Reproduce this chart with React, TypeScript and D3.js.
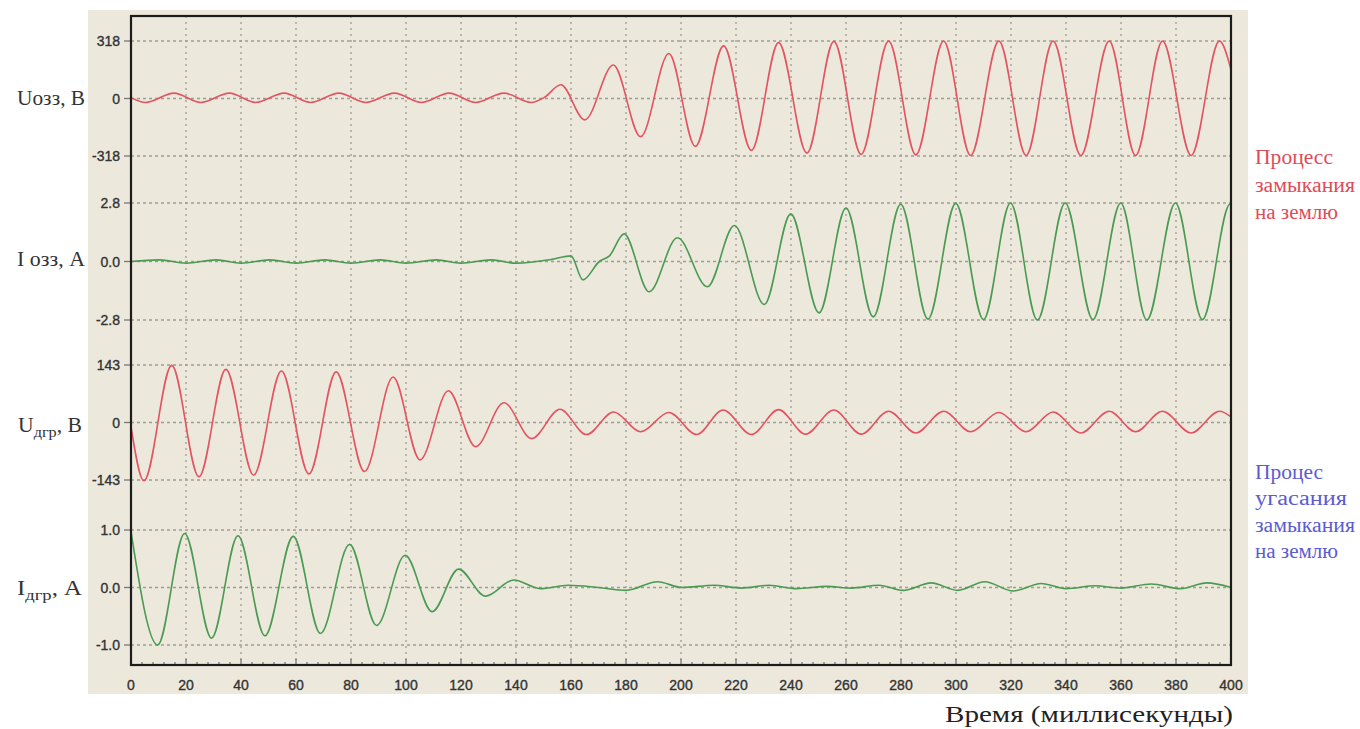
import React from 'react'
import * as d3 from 'd3'

// extrema: [time ms, value]
const uOzz: [number, number][] = [
  [0, 5], [5.3, -22], [15.6, 30], [25.4, -22], [35.8, 30], [45.3, -22], [55.7, 30],
  [65.3, -22], [75.6, 30], [85.4, -22], [95.8, 30], [105.6, -22], [115.7, 30],
  [125.3, -22], [135.6, 30], [145.5, -22], [150.5, 8], [156.3, 76], [165, -118],
  [175.4, 185], [185.3, -211], [195.6, 249], [205.2, -265], [215.5, 291], [225.6, -287],
  [235.5, 309], [245.8, -302], [255.6, 316], [265.5, -309], [275.5, 318], [285.4, -312],
  [295.5, 318], [305.3, -315], [315.6, 318], [325.5, -315], [335.3, 318], [345.4, -315],
  [355.7, 318], [365.3, -315], [375.1, 318], [385.5, -315], [395.8, 318], [400, 160],
]

const iOzz: [number, number][] = [
  [0, 0], [10.4, 0.08], [20, -0.08], [31, 0.08], [40, -0.08], [50.5, 0.08], [60, -0.08],
  [70.4, 0.08], [80, -0.08], [90.6, 0.08], [100, -0.08], [111, 0.08], [120, -0.08],
  [131, 0.08], [140, -0.08], [153, 0.1], [160, 0.27], [164.3, -0.88], [170.3, 0.0],
  [174, 0.27], [179.3, 1.32], [188.4, -1.45], [198.7, 1.14], [209.6, -1.21], [219.4, 1.72],
  [230.3, -2.06], [239.9, 2.28], [250.2, -2.46], [260, 2.56], [269.9, -2.65], [279.9, 2.74],
  [289.8, -2.76], [299.9, 2.78], [310, -2.78], [319.8, 2.8], [329.6, -2.8], [339.7, 2.8],
  [349.8, -2.78], [359.9, 2.8], [369.4, -2.8], [379.8, 2.8], [389.6, -2.78], [399.7, 2.75],
  [400, 2.74],
]

const uDgr: [number, number][] = [
  [0, -10], [4.7, -145], [14.8, 142], [24.7, -135], [34.5, 132], [44.6, -131], [54.7, 128],
  [64.7, -128], [74.6, 126], [84.9, -122], [95.3, 113], [105.1, -93], [115.4, 79],
  [125.3, -60], [135.6, 49], [145.7, -40], [156, 33], [165.6, -30], [175.5, 26],
  [185.3, -23], [195.6, 25], [205.7, -30], [215.3, 31], [225.6, -30], [235.5, 32],
  [245.3, -29], [255.6, 31], [265.5, -29], [275.5, 28], [285.4, -26], [295.5, 28],
  [305.3, -23], [315.6, 25], [325.5, -23], [335.3, 26], [345.4, -26], [355.7, 28],
  [365.3, -23], [375.1, 28], [385.5, -26], [395.8, 28], [400, 14],
]

const iDgr: [number, number][] = [
  [0, 0.97], [9.7, -1.0], [19.5, 0.94], [29.3, -0.88], [38.9, 0.9], [48.7, -0.84],
  [59, 0.89], [68.9, -0.8], [79.5, 0.75], [89.3, -0.66], [99.7, 0.56], [109.5, -0.42],
  [119.1, 0.32], [128.9, -0.15], [139.2, 0.13], [148.8, -0.02], [159, 0.04], [170, 0.0],
  [180, -0.05], [191.5, 0.1], [200.3, 0.0], [212, 0.04], [222, -0.01], [232, 0.04],
  [242, -0.02], [253, 0.02], [262, -0.01], [272, 0.04], [280.7, -0.05], [291, 0.08],
  [300.6, -0.05], [310.5, 0.1], [320.8, -0.06], [331, 0.07], [340, -0.02], [350.6, 0.03],
  [360, -0.01], [371, 0.06], [381.6, -0.02], [391.2, 0.08], [400, 0.0],
]

const timeTicks = [0, 20, 40, 60, 80, 100, 120, 140, 160, 180, 200, 220, 240, 260, 280, 300, 320, 340, 360, 380, 400]
const uOzzTicks = [318, 0, -318]
const uOzzLabels = ['318', '0', '-318']
const iOzzTicks = [2.8, 0, -2.8]
const iOzzLabels = ['2.8', '0.0', '-2.8']
const uDgrTicks = [143, 0, -143]
const uDgrLabels = ['143', '0', '-143']
const iDgrTicks = [1, 0, -1]
const iDgrLabels = ['1.0', '0.0', '-1.0']

const RED = '#e35462'
const GREEN = '#4a9a52'
const GRID = '#9d9c94'
const BG = '#ECE9DC'

const plot = { left: 131, right: 1231, top: 16, bottom: 665 }

const bands = [
  { data: uOzz, ticks: uOzzTicks, labels: uOzzLabels, top: 41, bottom: 156, color: RED },
  { data: iOzz, ticks: iOzzTicks, labels: iOzzLabels, top: 203, bottom: 320, color: GREEN },
  { data: uDgr, ticks: uDgrTicks, labels: uDgrLabels, top: 365, bottom: 480, color: RED },
  { data: iDgr, ticks: iDgrTicks, labels: iDgrLabels, top: 530, bottom: 645, color: GREEN },
]

const serif = "'Liberation Serif', 'Times New Roman', serif"
const sans = "'Liberation Sans', Arial, sans-serif"

export default function App() {
  const x = d3.scaleLinear().domain([0, 400]).range([plot.left, plot.right])
  const minor = d3.range(0, 401, 4)

  return (
    <svg width={1360} height={729} style={{ position: 'absolute', left: 0, top: 0, background: '#fff' }}>
      <rect x={88} y={10} width={1160} height={684} fill={BG} />

      {/* vertical grid */}
      {timeTicks.slice(1, -1).map(t => (
        <line key={'vg' + t} x1={x(t)} x2={x(t)} y1={plot.top} y2={plot.bottom}
          stroke={GRID} strokeWidth={1.3} strokeDasharray="2,4" />
      ))}

      {bands.map((b, i) => {
        const y = d3.scaleLinear().domain([b.ticks[2], b.ticks[0]]).range([b.bottom, b.top])
        const line = d3.line<[number, number]>()
          .x(d => x(d[0]))
          .y(d => y(d[1]))
          .curve(d3.curveMonotoneX)
        return (
          <g key={'band' + i}>
            {b.ticks.map((v, j) => (
              <g key={j}>
                <line x1={plot.left} x2={plot.right} y1={y(v)} y2={y(v)}
                  stroke={GRID} strokeWidth={1.3} strokeDasharray="3,3" />
                <line x1={124} x2={plot.left} y1={y(v)} y2={y(v)} stroke="#777" strokeWidth={1.3} />
                <text x={120} y={y(v)} dy="0.36em" textAnchor="end" fontFamily={sans}
                  fontSize={14} fill="#333" stroke="#333" strokeWidth={0.35}>{b.labels[j]}</text>
              </g>
            ))}
            <path d={line(b.data) || ''} fill="none" stroke={b.color} strokeWidth={1.6} />
          </g>
        )
      })}

      {/* x axis ticks */}
      {minor.map(t => (
        <line key={'mt' + t} x1={x(t)} x2={x(t)} y1={plot.bottom} y2={plot.bottom - (t % 20 === 0 ? 6 : 3)}
          stroke="#555" strokeWidth={1} />
      ))}
      {timeTicks.map(t => (
        <text key={'xl' + t} x={x(t)} y={690} textAnchor="middle" fontFamily={sans}
          fontSize={14} fill="#333" stroke="#333" strokeWidth={0.35}>{t}</text>
      ))}

      <rect x={plot.left} y={plot.top} width={plot.right - plot.left} height={plot.bottom - plot.top}
        fill="none" stroke="#1c1c1c" strokeWidth={2.2} />

      {/* channel labels */}
      <g fontFamily={serif} fontSize={20} fill="#333">
        <text x={17} y={105} textLength={68} lengthAdjust="spacingAndGlyphs">Uозз, В</text>
        <text x={17} y={266} textLength={68} lengthAdjust="spacingAndGlyphs">I озз, А</text>
        <text x={18} y={432} textLength={64} lengthAdjust="spacingAndGlyphs">
          U<tspan fontSize={15} dy={5}>дгр</tspan><tspan dy={-5}>, В</tspan>
        </text>
        <text x={17} y={595} textLength={65} lengthAdjust="spacingAndGlyphs">
          I<tspan fontSize={15} dy={5}>дгр</tspan><tspan dy={-5}>, А</tspan>
        </text>
      </g>

      <g fontFamily={serif} fontSize={20} fill="#e04b57">
        <text x={1255} y={164} textLength={78} lengthAdjust="spacingAndGlyphs">Процесс</text>
        <text x={1255} y={192} textLength={100} lengthAdjust="spacingAndGlyphs">замыкания</text>
        <text x={1255} y={219} textLength={83} lengthAdjust="spacingAndGlyphs">на землю</text>
      </g>
      <g fontFamily={serif} fontSize={20} fill="#5b5bd2">
        <text x={1255} y={479} textLength={68} lengthAdjust="spacingAndGlyphs">Процес</text>
        <text x={1255} y={505} textLength={92} lengthAdjust="spacingAndGlyphs">угасания</text>
        <text x={1255} y={532} textLength={100} lengthAdjust="spacingAndGlyphs">замыкания</text>
        <text x={1255} y={558} textLength={83} lengthAdjust="spacingAndGlyphs">на землю</text>
      </g>

      <text x={945} y={722} fontFamily={serif} fontSize={23} fill="#222"
        textLength={288} lengthAdjust="spacingAndGlyphs">Время (миллисекунды)</text>
    </svg>
  )
}
